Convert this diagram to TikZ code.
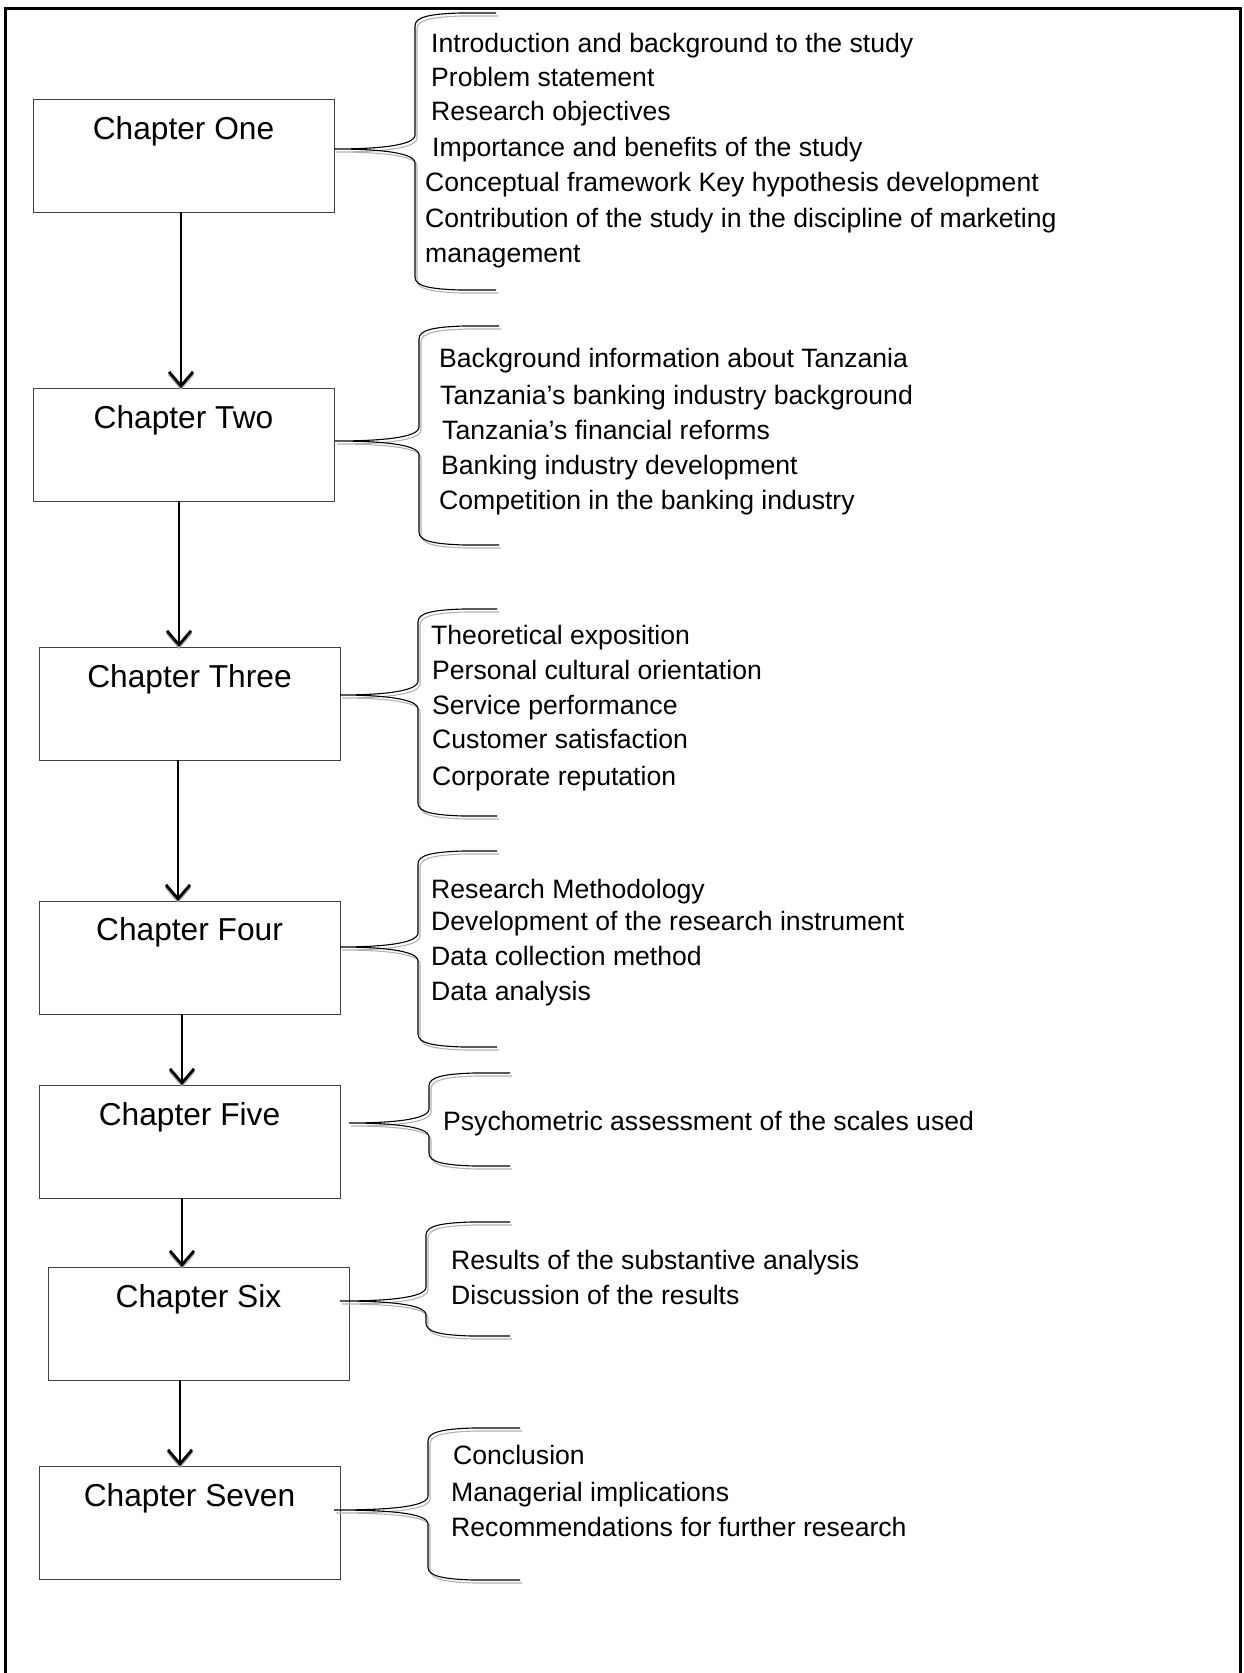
\documentclass[tikz,border=0pt]{standalone}
\usepackage{fontspec}
\setmainfont{Liberation Sans}
\usetikzlibrary{arrows.meta,calc}
\newcommand{\chbrace}[6]{%
 \foreach \dx/\dy/\col in {2/3/black!30, 0/0/black}{%
  \draw[line width=1.1pt, draw=\col, shift={(\dx,\dy)}]
   (#1,#2) .. controls ({#3-40},#2) and (#3,{#2-3}) .. (#3,{#2-14})
   -- (#3,{#4+13}) .. controls (#3,{#4+4}) and ({#3+14},{#4+1}) .. ({#3+45},#4) -- (#6,#4)
   (#1,#2) .. controls ({#3-40},#2) and (#3,{#2+3}) .. (#3,{#2+14})
   -- (#3,{#5-13}) .. controls (#3,{#5-4}) and ({#3+14},{#5-1}) .. ({#3+45},#5) -- (#6,#5);}}
\tikzset{
  chbox/.style={draw=black!75, line width=1pt, minimum width=301pt, minimum height=113pt,
    anchor=north west, inner sep=0pt, outer sep=0pt},
  chlabel/.style={anchor=base, inner sep=0pt, font=\fontsize{31.7}{38}\selectfont},
  item/.style={anchor=base west, inner sep=0pt, font=\fontsize{26.6}{32}\selectfont},
  arr/.style={line width=2.8pt, -{Straight Barb[length=14pt,width=24pt]}},
  arrshadow/.style={arr, draw=black!35, transform canvas={yshift=-2pt}}
}
\begin{document}
\begin{tikzpicture}[x=1pt,y=-1pt]
\useasboundingbox (0,0) rectangle (1244,1673);
% frame (open at bottom)
\draw[line width=3pt] (5,1673) -- (5,8) -- (1240,8) -- (1240,1673);

% chapter boxes
\node[chbox] (b1) at (33,99) {};
\node[chbox] (b2) at (33,388) {};
\node[chbox] (b3) at (39,647) {};
\node[chbox] (b4) at (39,901) {};
\node[chbox] (b5) at (39,1085) {};
\node[chbox] (b6) at (48,1267) {};
\node[chbox] (b7) at (39,1466) {};

\node[chlabel] (l1) at ($(b1.north)+(0,40)$) {Chapter One};
\node[chlabel] (l2) at ($(b2.north)+(0,40)$) {Chapter Two};
\node[chlabel] (l3) at ($(b3.north)+(0,40)$) {Chapter Three};
\node[chlabel] (l4) at ($(b4.north)+(0,39)$) {Chapter Four};
\node[chlabel] (l5) at ($(b5.north)+(0,40)$) {Chapter Five};
\node[chlabel] (l6) at ($(b6.north)+(0,40)$) {Chapter Six};
\node[chlabel] (l7) at ($(b7.north)+(0,40)$) {Chapter Seven};

% arrows
\coordinate (a1) at (181,0);
\coordinate (a2) at (179,0);
\coordinate (a3) at (178,0);
\coordinate (a4) at (182,0);
\coordinate (a5) at (182,0);
\coordinate (a6) at (180,0);
\draw[arrshadow] (b1.south -| a1) -- (b2.north -| a1);
\draw[arr] (b1.south -| a1) -- (b2.north -| a1);
\draw[arrshadow] (b2.south -| a2) -- (b3.north -| a2);
\draw[arr] (b2.south -| a2) -- (b3.north -| a2);
\draw[arrshadow] (b3.south -| a3) -- (b4.north -| a3);
\draw[arr] (b3.south -| a3) -- (b4.north -| a3);
\draw[arrshadow] (b4.south -| a4) -- (b5.north -| a4);
\draw[arr] (b4.south -| a4) -- (b5.north -| a4);
\draw[arrshadow] (b5.south -| a5) -- (b6.north -| a5);
\draw[arr] (b5.south -| a5) -- (b6.north -| a5);
\draw[arrshadow] (b6.south -| a6) -- (b7.north -| a6);
\draw[arr] (b6.south -| a6) -- (b7.north -| a6);

% braces
\chbrace{334}{149}{415}{13}{290}{496}
\chbrace{335}{441}{419}{326}{545}{499}
\chbrace{340}{695}{418}{609}{816}{497}
\chbrace{340}{947}{418}{851}{1047}{497}
\chbrace{349}{1123}{429}{1073}{1166}{510}
\chbrace{340}{1301}{426}{1222}{1336}{510}
\chbrace{334}{1510}{428}{1428}{1580}{520}

% chapter one items
\node[item] (t1a) at (431,52.5) {Introduction and background to the study};
\node[item] (t1b) at (431,86.5) {Problem statement};
\node[item] (t1c) at (431,120.5) {Research objectives};
\node[item] (t1d) at (432,156.5) {Importance and benefits of the study};
\node[item] (t1e) at (425,191.5) {Conceptual framework Key hypothesis development};
\node[item] (t1f) at (425,227.5) {Contribution of the study in the discipline of marketing};
\node[item] (t1g) at (425,262.5) {management};
% chapter two items
\node[item] (t2a) at (439,367.5) {Background information about Tanzania};
\node[item] (t2b) at (440,404.5) {Tanzania’s banking industry background};
\node[item] (t2c) at (442,439.5) {Tanzania’s financial reforms};
\node[item] (t2d) at (441,474.5) {Banking industry development};
\node[item] (t2e) at (439,509.5) {Competition in the banking industry};
% chapter three items
\node[item] (t3a) at (431,644.5) {Theoretical exposition};
\node[item] (t3b) at (432,679.5) {Personal cultural orientation};
\node[item] (t3c) at (432,714.5) {Service performance};
\node[item] (t3d) at (432,748.5) {Customer satisfaction};
\node[item] (t3e) at (432,785.5) {Corporate reputation};
% chapter four items
\node[item] (t4a) at (431,898.5) {Research Methodology};
\node[item] (t4b) at (431,930.5) {Development of the research instrument};
\node[item] (t4c) at (431,965.5) {Data collection method};
\node[item] (t4d) at (431,1000.5) {Data analysis};
% chapter five items
\node[item] (t5a) at (443,1130.5) {Psychometric assessment of the scales used};
% chapter six items
\node[item] (t6a) at (451,1269.5) {Results of the substantive analysis};
\node[item] (t6b) at (451,1304.5) {Discussion of the results};
% chapter seven items
\node[item] (t7a) at (453,1464.5) {Conclusion};
\node[item] (t7b) at (451,1501.5) {Managerial implications};
\node[item] (t7c) at (451,1536.5) {Recommendations for further research};
\end{tikzpicture}
\end{document}
